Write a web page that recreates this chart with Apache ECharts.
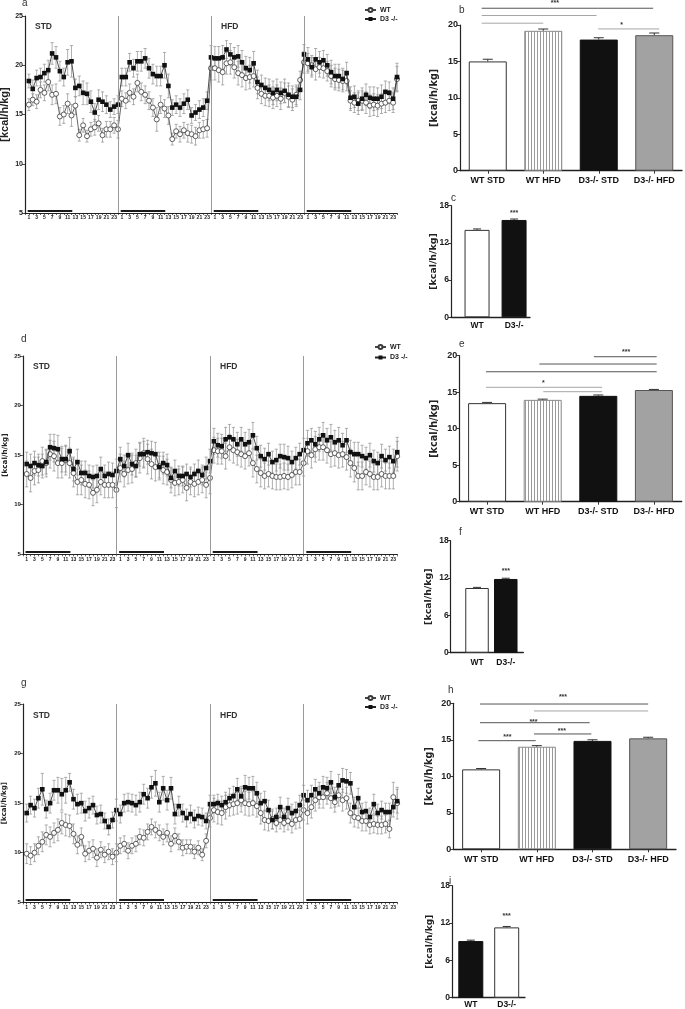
<!DOCTYPE html>
<html><head><meta charset="utf-8">
<script src="https://cdn.jsdelivr.net/npm/echarts@6/dist/echarts.min.js"></script>
<style>html,body{margin:0;padding:0;background:#fff}#c{width:685px;height:1009px}</style>
</head><body><div id="c"></div>
<script>
// ---------- tick labels / categories ----------
const hourLabels = ['1','','3','','5','','7','','9','','11','','13','','15','','17','','19','','21','','23',''];
const daySeparators = [24, 48, 72];
const darkPhases = [[0.7,12.2],[24.7,36.2],[48.7,60.2],[72.7,84.2]];
const barCats = ['WT STD','WT HFD','D3-/- STD','D3-/- HFD'];
const pairCats = ['WT','D3-/-'];

// ---------- panel a ----------
const A_WT = [
16.0,16.5,16.3,17.5,17.2,18.3,17.0,17.1,14.8,15.0,16.1,14.9,15.9,12.9,13.9,12.8,13.5,13.7,14.1,12.9,13.5,13.5,13.9,13.5,
16.6,16.4,17.2,16.8,18.2,17.3,17.0,16.4,15.7,14.5,16.0,15.6,14.9,12.5,13.3,13.0,13.4,13.1,13.0,12.8,13.4,13.5,13.6,19.7,
19.7,19.5,19.3,20.2,20.3,19.8,19.2,19.0,18.7,18.8,18.9,17.7,17.1,16.9,16.9,16.7,16.9,16.6,17.2,16.8,16.5,17.0,18.5,20.3,
20.2,20.0,19.6,19.8,19.7,19.4,18.9,18.6,18.5,18.4,18.4,16.4,16.2,16.4,16.4,16.2,15.9,16.0,15.9,16.1,16.2,16.4,16.2,18.6];
const A_WT_E = [
0.6,0.6,0.7,0.8,0.8,0.9,1.0,1.0,0.9,0.9,1.0,1.1,0.9,0.6,0.7,0.6,0.7,0.8,0.8,0.7,0.8,0.8,0.8,0.9,
0.8,0.8,0.9,0.8,0.9,0.9,0.9,0.9,0.9,1.2,0.9,0.9,0.9,0.6,0.7,0.8,0.8,0.9,0.9,0.9,0.8,0.9,0.9,1.2,
1.2,1.2,1.3,1.1,1.2,1.1,1.2,1.2,1.2,1.2,1.1,1.1,1.0,1.0,1.1,1.1,1.1,1.1,1.0,1.1,1.1,1.0,0.9,1.1,
1.0,1.0,1.1,1.0,1.0,1.0,1.1,1.1,1.1,1.1,1.0,1.0,1.0,1.0,1.0,1.1,1.1,1.1,1.1,1.0,1.0,1.0,1.0,1.3];
const A_D3 = [
18.4,17.6,18.7,18.8,19.2,19.5,21.2,20.8,19.4,18.8,20.3,20.4,17.7,17.9,17.2,17.1,16.3,15.2,16.5,16.3,16.0,15.5,15.8,16.0,
18.8,18.8,20.3,19.7,20.4,20.4,20.7,19.7,19.1,18.9,18.9,20.0,17.9,15.7,16.0,15.7,16.1,16.5,14.9,15.2,15.5,15.7,16.4,20.8,
20.7,20.7,20.8,21.6,21.1,20.8,20.9,20.3,19.7,19.5,20.2,18.3,18.0,17.7,17.5,17.2,17.5,17.2,17.4,17.0,16.8,16.8,17.5,21.1,
20.6,19.8,20.6,20.3,20.5,20.0,19.3,18.9,18.9,18.6,19.2,16.7,16.8,16.1,16.6,17.0,16.7,16.6,16.6,16.8,17.3,17.2,16.6,18.8];
const A_D3_E = [
0.7,0.9,0.8,0.9,0.9,1.0,1.1,1.1,1.0,0.9,1.3,1.6,0.9,1.0,1.2,1.1,1.1,0.9,1.0,1.0,0.9,0.8,0.8,0.9,
0.9,0.9,0.9,0.9,1.0,1.0,1.0,1.0,1.0,1.0,1.0,1.3,1.2,0.8,0.9,0.9,1.0,1.0,0.8,0.8,0.9,0.9,0.9,1.2,
1.2,1.2,1.2,0.9,1.1,1.0,1.1,1.2,1.2,1.3,1.2,1.2,1.0,1.0,1.1,1.2,1.1,1.1,1.2,1.2,1.1,1.0,1.0,1.0,
1.2,1.0,1.1,1.1,1.0,1.1,1.2,1.2,1.2,1.1,1.1,1.1,1.1,1.1,1.1,1.1,1.1,1.2,1.1,1.2,1.1,1.1,1.1,1.4];

// ---------- panel d ----------
const D_WT = [
13.1,12.7,13.4,13.5,14.4,14.2,15.1,14.9,14.2,14.2,14.5,14.2,13.2,12.3,12.5,12.1,12.0,11.2,11.5,12.3,12.0,12.0,12.0,11.5,
13.7,13.1,13.5,13.6,14.2,14.7,15.2,14.6,14.1,13.8,13.9,13.5,13.3,12.5,12.2,12.3,12.5,11.7,12.3,12.1,12.3,12.5,12.0,12.7,
15.5,15.4,15.4,14.9,15.8,15.5,15.3,15.1,14.9,15.2,14.2,13.6,13.2,12.9,13.1,12.9,12.8,12.8,12.9,12.8,13.0,13.3,13.3,14.2,
15.4,15.0,15.6,15.8,15.8,15.5,15.1,15.2,15.0,15.1,14.8,14.2,13.7,12.9,12.9,13.3,13.1,12.8,12.8,13.1,12.9,12.9,12.9,14.9];
const D_WT_E = [
1.3,1.4,1.4,1.3,1.4,1.4,1.4,1.5,1.5,1.5,1.5,1.5,1.4,1.3,1.5,1.4,1.4,1.3,1.3,1.3,1.3,1.3,1.3,1.8,
1.4,1.3,1.4,1.4,1.4,1.5,1.5,1.5,1.5,1.4,1.4,1.4,1.3,1.3,1.3,1.3,1.3,1.3,1.3,1.3,1.3,1.3,1.3,1.6,
1.3,1.3,1.3,1.3,1.3,1.3,1.3,1.3,1.3,1.3,1.4,1.4,1.4,1.3,1.3,1.3,1.3,1.3,1.3,1.3,1.3,1.3,1.3,1.3,
1.3,1.3,1.3,1.3,1.3,1.3,1.3,1.3,1.3,1.3,1.3,1.4,1.4,1.4,1.4,1.3,1.3,1.3,1.3,1.3,1.3,1.3,1.3,1.5];
const D_D3 = [
14.1,13.9,14.2,14.0,13.9,14.3,15.8,15.7,15.6,14.6,14.6,15.4,13.6,14.3,13.2,13.2,12.9,12.8,12.9,13.6,12.9,13.1,13.0,13.4,
14.6,13.9,15.0,14.1,13.9,15.1,15.1,15.3,15.2,15.1,13.8,14.2,14.0,12.7,13.4,12.9,12.9,13.1,12.8,13.1,13.4,13.0,13.7,14.4,
16.4,16.0,15.9,16.6,16.8,16.6,16.1,16.6,16.1,16.3,17.0,15.7,14.9,14.6,15.1,14.3,14.5,14.9,14.8,14.7,14.3,14.7,15.1,15.5,
16.2,16.5,16.1,16.6,17.0,16.5,16.8,16.3,16.5,16.0,16.5,15.3,15.1,15.1,14.9,14.7,15.0,14.4,14.2,14.9,14.5,14.8,14.4,15.3];
const D_D3_E = [
1.2,1.2,1.2,1.1,1.2,1.2,1.3,1.4,1.4,1.3,1.3,1.4,1.2,1.3,1.2,1.2,1.1,1.1,1.1,1.2,1.1,1.2,1.2,1.2,
1.2,1.1,1.2,1.1,1.1,1.2,1.3,1.2,1.2,1.2,1.1,1.1,1.1,1.0,1.1,1.0,1.0,1.0,1.0,1.0,1.1,1.0,1.1,1.2,
1.3,1.2,1.2,1.2,1.3,1.2,1.2,1.2,1.2,1.3,1.3,1.2,1.1,1.1,1.1,1.1,1.1,1.2,1.3,1.2,1.1,1.1,1.1,1.2,
1.3,1.2,1.3,1.2,1.3,1.2,1.3,1.2,1.3,1.2,1.2,1.2,1.2,1.2,1.1,1.1,1.2,1.1,1.1,1.2,1.1,1.1,1.2,1.5];

// ---------- panel g ----------
const G_WT = [
9.9,9.7,10.0,10.7,11.1,11.8,11.6,12.0,12.3,13.0,12.8,12.7,11.9,10.8,11.6,9.9,10.2,10.4,9.5,10.3,9.8,10.1,9.6,10.0,
10.7,10.9,10.2,10.7,10.9,11.6,11.5,12.1,12.6,12.3,12.0,11.6,12.0,10.9,11.7,11.1,10.5,10.6,10.6,10.1,10.5,9.8,11.2,13.5,
14.3,14.1,14.0,14.6,14.8,14.9,15.0,15.3,15.0,14.9,15.0,14.7,14.0,13.3,13.2,13.4,13.0,13.3,13.0,13.2,12.9,13.3,13.4,14.3,
14.0,14.6,15.3,15.6,15.6,16.0,15.5,15.1,15.8,15.3,15.5,14.0,13.6,13.5,13.2,13.2,12.8,12.9,12.8,12.8,12.9,12.4,15.6,15.0];
const G_WT_E = [
1.0,0.9,0.9,0.9,1.0,1.0,1.0,1.0,1.1,1.1,1.1,1.1,1.0,0.9,0.9,0.8,0.9,0.9,0.9,0.8,0.8,0.8,0.8,0.9,
0.8,0.8,0.8,0.8,0.8,0.8,0.8,0.8,0.8,0.8,0.8,0.8,0.9,0.8,0.8,0.8,0.8,0.7,0.7,0.7,0.7,0.6,0.7,0.9,
1.2,1.2,1.2,1.2,1.1,1.1,1.1,1.2,1.2,1.2,1.2,1.1,1.1,1.0,1.0,1.0,0.9,0.9,0.9,0.9,0.9,0.9,0.9,1.0,
1.1,1.1,1.1,1.1,1.1,1.1,1.0,1.0,1.1,1.1,1.1,1.0,1.0,1.0,1.0,1.0,0.9,0.9,0.9,0.9,0.9,0.9,1.5,1.6];
const G_D3 = [
14.0,14.8,14.5,15.5,16.4,14.4,15.0,16.3,16.3,15.9,16.3,17.1,15.4,14.9,15.0,14.2,14.5,14.8,13.8,13.9,13.2,12.6,13.3,14.3,
13.9,15.0,15.1,15.0,14.8,15.1,15.9,15.5,16.6,17.0,15.1,16.5,15.3,16.5,13.9,14.7,14.0,13.5,13.9,13.4,13.7,13.6,13.2,14.9,
14.9,15.0,14.8,15.1,15.5,15.7,16.4,15.7,16.6,16.5,16.5,16.0,15.0,15.2,14.3,13.3,13.6,14.6,13.6,14.5,14.0,14.2,14.8,15.8,
15.3,15.8,16.4,16.0,16.6,16.5,17.1,15.6,16.8,17.3,17.2,17.0,14.6,15.5,14.1,14.2,13.6,14.9,14.0,14.3,14.1,14.1,14.6,15.2];
const G_D3_E = [
0.9,0.9,0.9,1.0,1.6,0.9,1.0,1.0,1.3,1.6,1.3,0.9,1.0,1.0,1.0,1.0,1.0,0.9,0.9,0.9,0.8,0.8,0.8,1.1,
0.9,0.9,0.9,0.9,1.0,1.0,1.0,1.0,1.1,1.3,1.0,1.2,1.0,1.1,1.0,1.0,0.9,0.9,0.9,0.9,0.9,0.9,0.8,0.9,
0.9,0.9,0.9,1.0,1.0,1.0,1.1,1.0,1.2,1.1,1.2,1.1,1.0,1.0,1.0,0.9,0.9,1.0,0.9,1.0,0.9,0.9,1.0,1.0,
1.0,1.0,1.0,1.1,1.1,1.1,1.1,1.0,1.1,1.2,1.2,1.1,1.0,1.0,0.9,0.9,0.9,1.0,0.9,0.9,0.9,0.9,1.0,1.2];

// ---------- bar panels ----------
const B_VALS = [15.0, 19.2, 18.0, 18.6];
const B_ERR  = [0.3, 0.25, 0.25, 0.3];
const C_VALS = [14.1, 15.7];
const C_ERR  = [0.15, 0.15];
const E_VALS = [13.5, 13.95, 14.5, 15.3];
const E_ERR  = [0.1, 0.1, 0.12, 0.08];
const F_VALS = [10.4, 11.85];
const F_ERR  = [0.1, 0.12];
const H_VALS = [10.95, 14.05, 14.85, 15.2];
const H_ERR  = [0.12, 0.15, 0.15, 0.15];
const I_VALS = [9.1, 11.3];
const I_ERR  = [0.15, 0.15];

// significance brackets: [fromCat, toCat, yValue, tone]; stars: [cat, yValue, text]
const SIG_B_LINES = [[-0.11,2.98,22.3,'d'],[-0.11,1.96,21.3,'g'],[-0.11,1.0,20.25,'g'],[1.99,3.09,19.46,'g']];
const SIG_B_TEXT  = [[1.21,23.2,'***'],[2.41,20.15,'*']];
const SIG_E_LINES = [[1.92,3.05,19.86,'d'],[0.94,3.05,18.86,'d'],[-0.02,3.05,17.8,'d'],[-0.02,2.07,15.67,'g'],[1.01,2.07,15.07,'g']];
const SIG_E_TEXT  = [[2.5,20.7,'***'],[1.01,16.4,'*']];
const SIG_H_LINES = [[-0.02,3.0,19.9,'d'],[0.95,3.0,18.95,'g'],[-0.02,1.95,17.34,'d'],[0.95,1.98,15.8,'d'],[-0.05,0.98,14.88,'d']];
const SIG_H_TEXT  = [[1.47,21.0,'***'],[0.94,17.7,'***'],[1.45,16.44,'***'],[0.47,15.52,'***']];
const SIG_C_TEXT  = [[1,17.0,'***']];
const SIG_F_TEXT  = [[1,13.4,'***']];
const SIG_I_TEXT  = [[1,13.3,'***']];

// ---------- rendering ----------
const FONT = "'Liberation Sans', Arial, sans-serif";
const WIDE = "'DejaVu Sans', sans-serif";
const INK = '#222';

function stripeCanvas() {
  const cv = document.createElement('canvas');
  cv.width = 3; cv.height = 6;
  const ctx = cv.getContext('2d');
  ctx.fillStyle = '#fff'; ctx.fillRect(0,0,3,6);
  ctx.fillStyle = '#9a9a9a'; ctx.fillRect(0,0,1,6);
  return cv;
}
const stripe = stripeCanvas();
const styleWT_STD = {color:'#fff', borderColor:'#333', borderWidth:1};
const styleWT_HFD = {color:{image:stripe, repeat:'repeat'}, borderColor:'#8a8a8a', borderWidth:1};
const styleD3_STD = {color:'#111', borderColor:'#111', borderWidth:1};
const styleD3_HFD = {color:'#a2a2a2', borderColor:'#555', borderWidth:1};
const fourStyles = [styleWT_STD, styleWT_HFD, styleD3_STD, styleD3_HFD];

const grids = [
  {left:25,    top:16,    width:372,   height:197},   // a
  {left:460,   top:25,    width:222,   height:145.7}, // b
  {left:451,   top:205.7, width:79,    height:111.6}, // c
  {left:22.8,  top:356,   width:374.4, height:198.3}, // d
  {left:459.3, top:355.7, width:222.4, height:146},   // e
  {left:450.7, top:540.7, width:72.6,  height:112},   // f
  {left:22.8,  top:704,   width:374.4, height:198.3}, // g
  {left:453.3, top:703.3, width:222.7, height:146},   // h
  {left:452,   top:885.7, width:73,    height:112}    // i
].map(g => Object.assign({outerBoundsMode:'none', containLabel:false}, g));

const xAxes = [], yAxes = [], series = [];

function yTitle(size, gap, fam) {
  return {name:'[kcal/h/kg]', nameLocation:'middle', nameRotate:90, nameGap:gap, nameMoveOverlap:false,
    nameTextStyle:{fontSize:size, fontWeight:'bold', fontFamily:fam, color:INK}};
}

function lineAxes(gi, labelSize, titleSize, titleGap, titleFam) {
  xAxes[gi] = {type:'value', gridIndex:gi, min:0, max:96, interval:1,
    axisLine:{show:true, onZero:false, lineStyle:{color:INK, width:1.2}},
    axisTick:{show:true, length:2, lineStyle:{color:INK, width:0.7}},
    axisLabel:{fontSize:5, fontWeight:'bold', color:INK, margin:2.5, fontFamily:FONT,
      formatter: v => (v === 0 ? '' : hourLabels[(v - 1) % 24])},
    splitLine:{show:false}};
  yAxes[gi] = Object.assign({type:'value', gridIndex:gi, min:5, max:25, interval:5,
    axisLine:{show:true, onZero:false, lineStyle:{color:INK, width:1.2}},
    axisTick:{show:true, length:3, lineStyle:{color:INK, width:0.8}},
    axisLabel:{fontSize:labelSize, fontWeight:'bold', color:INK, margin:2, fontFamily:FONT},
    splitLine:{show:false}}, yTitle(titleSize, titleGap, titleFam));
}

function errRender(capHalf, color, width, both) {
  return function (params, api) {
    const x = api.value(0), v = api.value(1), e = api.value(2);
    const pt = api.coord([x, v + e]);
    const pb = api.coord([x, both ? v - e : v]);
    const st = {stroke:color, lineWidth:width};
    const ch = [
      {type:'line', shape:{x1:pt[0], y1:pt[1], x2:pb[0], y2:pb[1]}, style:st},
      {type:'line', shape:{x1:pt[0]-capHalf, y1:pt[1], x2:pt[0]+capHalf, y2:pt[1]}, style:st}
    ];
    if (both) ch.push({type:'line', shape:{x1:pb[0]-capHalf, y1:pb[1], x2:pb[0]+capHalf, y2:pb[1]}, style:st});
    return {type:'group', children:ch};
  };
}

function linePanel(gi, wt, wtE, d3, d3E) {
  const idx = {xAxisIndex:gi, yAxisIndex:gi};
  series.push(Object.assign({type:'custom', name:'errWT'+gi, data: wt.map((v,i)=>[i+1, v, wtE[i]]),
    encode:{x:0, y:1}, renderItem: errRender(1.6, '#8f8f8f', 0.7, true), z:2, silent:true}, idx));
  series.push(Object.assign({type:'custom', name:'errD3'+gi, data: d3.map((v,i)=>[i+1, v, d3E[i]]),
    encode:{x:0, y:1}, renderItem: errRender(1.6, '#8f8f8f', 0.7, true), z:2, silent:true}, idx));
  series.push(Object.assign({type:'line', name:'WT', data: wt.map((v,i)=>[i+1, v]),
    symbol:'circle', symbolSize:5, showAllSymbol:true,
    itemStyle:{color:'#fff', borderColor:'#3a3a3a', borderWidth:0.8},
    lineStyle:{color:'#444', width:0.8}, z:3,
    markLine:{silent:true, symbol:['none','none'], label:{show:false}, animation:false,
      data: [
        ...daySeparators.map(x => ({xAxis:x, lineStyle:{color:'#9a9a9a', width:1, type:'solid'}})),
        ...darkPhases.map(([a,b]) => [{coord:[a,5.25], lineStyle:{color:'#1a1a1a', width:1.8, type:'solid'}}, {coord:[b,5.25]}])
      ]}}, idx));
  series.push(Object.assign({type:'line', name:'D3 -/-', data: d3.map((v,i)=>[i+1, v]),
    symbol:'rect', symbolSize:4.6, showAllSymbol:true,
    itemStyle:{color:'#111'}, lineStyle:{color:'#222', width:0.8}, z:4}, idx));
}

function sigRender(lines, texts) {
  return function (params, api) {
    const unit = api.size([1, 0])[0];
    const P = (c, v) => { const p = api.coord([0, v]); return [p[0] + c * unit, p[1]]; };
    const ch = [];
    lines.forEach(([a, b, v, tone]) => {
      const p1 = P(a, v), p2 = P(b, v);
      ch.push({type:'line', shape:{x1:p1[0], y1:p1[1], x2:p2[0], y2:p2[1]},
        style:{stroke: tone === 'd' ? '#555' : '#a5a5a5', lineWidth:1}});
    });
    texts.forEach(([c, v, t]) => {
      const p = P(c, v);
      ch.push({type:'text', x:p[0], y:p[1] + 1.5,
        style:{text:t, fill:'#333', fontSize:7, fontWeight:'bold', fontFamily:FONT, align:'center', verticalAlign:'middle'}});
    });
    return {type:'group', children:ch};
  };
}

function barAxisY(gi, max, interval, labelSize, titleGap, titleSize) {
  yAxes[gi] = Object.assign({type:'value', gridIndex:gi, min:0, max:max, interval:interval,
    axisLine:{show:true, onZero:false, lineStyle:{color:INK, width:1.2}},
    axisTick:{show:true, length:3, lineStyle:{color:INK, width:0.9}},
    axisLabel:{fontSize:labelSize, fontWeight:'bold', color:INK, margin:2, fontFamily:FONT},
    splitLine:{show:false}}, yTitle(titleSize, titleGap, WIDE));
}

function bar4Panel(gi, vals, errs, sigLines, sigText, titleGap, labelMargin) {
  xAxes[gi] = {type:'category', gridIndex:gi, data:barCats,
    axisLine:{show:true, onZero:false, lineStyle:{color:INK, width:1.3}},
    axisTick:{show:true, alignWithLabel:true, length:3, lineStyle:{color:INK, width:0.9}},
    axisLabel:{interval:0, fontSize:9, fontWeight:'bold', color:'#111', margin:labelMargin, fontFamily:FONT}};
  barAxisY(gi, 20, 5, 9, titleGap, 9.7);
  const idx = {xAxisIndex:gi, yAxisIndex:gi};
  series.push(Object.assign({type:'bar', name:'bars'+gi, barWidth:38,
    data: vals.map((v,i)=>({value:v, itemStyle:fourStyles[i]})), z:2, silent:true}, idx));
  series.push(Object.assign({type:'custom', name:'berr'+gi, data: vals.map((v,i)=>[i, v, errs[i]]),
    encode:{x:0, y:1}, renderItem: errRender(5, '#333', 1, false), z:3, silent:true}, idx));
  series.push(Object.assign({type:'custom', name:'sig'+gi, data:[[0,0]], encode:{x:0, y:1},
    renderItem: sigRender(sigLines, sigText), z:4, silent:true}, idx));
}

function bar2Panel(gi, vals, errs, sigText, xmin, xmax, colors, barW, titleGap, titleSize, labelMargin) {
  xAxes[gi] = {type:'value', gridIndex:gi, min:xmin, max:xmax,
    axisLine:{show:true, onZero:false, lineStyle:{color:INK, width:1.3}},
    axisTick:{show:false}, splitLine:{show:false},
    axisLabel:{customValues:[0,1], formatter: v => pairCats[Math.round(v)] || '',
      fontSize:8.5, fontWeight:'bold', color:'#111', margin:labelMargin, fontFamily:FONT}};
  barAxisY(gi, 18, 6, 8.5, titleGap, titleSize);
  const idx = {xAxisIndex:gi, yAxisIndex:gi};
  series.push(Object.assign({type:'bar', name:'pbars'+gi, barWidth:barW,
    data: vals.map((v,i)=>({value:[i, v], itemStyle:colors[i]})), z:2, silent:true}, idx));
  series.push(Object.assign({type:'custom', name:'perr'+gi, data: vals.map((v,i)=>[i, v, errs[i]]),
    encode:{x:0, y:1}, renderItem: errRender(4, '#333', 1, false), z:3, silent:true}, idx));
  series.push(Object.assign({type:'custom', name:'psig'+gi, data:[[0,0]], encode:{x:0, y:1},
    renderItem: sigRender([], sigText), z:4, silent:true}, idx));
}

lineAxes(0, 7, 11, 14.3, FONT);
lineAxes(3, 6, 7.2, 14.5, WIDE);
lineAxes(6, 6, 7, 15.5, WIDE);
linePanel(0, A_WT, A_WT_E, A_D3, A_D3_E);
linePanel(3, D_WT, D_WT_E, D_D3, D_D3_E);
linePanel(6, G_WT, G_WT_E, G_D3, G_D3_E);

bar4Panel(1, B_VALS, B_ERR, SIG_B_LINES, SIG_B_TEXT, 20.7, 5);
bar4Panel(4, E_VALS, E_ERR, SIG_E_LINES, SIG_E_TEXT, 20, 5);
bar4Panel(7, H_VALS, H_ERR, SIG_H_LINES, SIG_H_TEXT, 19.3, 6);

bar2Panel(2, C_VALS, C_ERR, SIG_C_TEXT, -0.703, 1.43, [styleWT_STD, styleD3_STD], 25, 12.7, 9.4, 4);
bar2Panel(5, F_VALS, F_ERR, SIG_F_TEXT, -0.916, 1.61, [styleWT_STD, styleD3_STD], 23.5, 17.4, 9.4, 5);
bar2Panel(8, I_VALS, I_ERR, SIG_I_TEXT, -0.524, 1.51, [styleD3_STD, styleWT_STD], 25, 18, 9, 2);

function legendAt(left, top, gap) {
  return {data:['WT','D3 -/-'], orient:'vertical', left:left, top:top, padding:0,
    itemWidth:11, itemHeight:5, itemGap:gap, selectedMode:false,
    textStyle:{fontSize:7, fontWeight:'bold', fontFamily:FONT, color:INK, padding:[0,0,0,-1]}};
}

function label(text, left, top, size, weight) {
  return {type:'text', left:left, top:top, silent:true,
    style:{text:text, fontSize:size, fontWeight:weight || 'normal', fontFamily:FONT, fill:'#333'}};
}

const chart = echarts.init(document.getElementById('c'), null, {renderer:'canvas'});
chart.setOption({
  animation:false,
  backgroundColor:'#fff',
  grid: grids,
  xAxis: xAxes,
  yAxis: yAxes,
  legend: [legendAt(364, 6.5, 2), legendAt(374, 343.5, 3.5), legendAt(364, 694.5, 2)],
  series: series,
  graphic: [
    label('a', 22, -2, 10), label('b', 459, 5, 10), label('c', 451, 193, 10),
    label('d', 21, 334, 10), label('e', 459, 339, 10), label('f', 459, 527, 10),
    label('g', 21, 678, 10), label('h', 448, 685, 10), label('i', 449, 876, 10),
    label('STD', 35, 22, 8.5, 'bold'), label('HFD', 221, 22, 8.5, 'bold'),
    label('STD', 33, 362, 8.5, 'bold'), label('HFD', 220, 362, 8.5, 'bold'),
    label('STD', 33, 711, 8.5, 'bold'), label('HFD', 220, 711, 8.5, 'bold')
  ]
});
</script></body></html>
